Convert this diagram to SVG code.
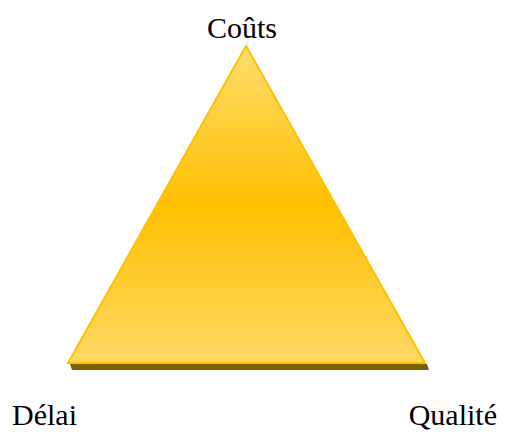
<svg xmlns="http://www.w3.org/2000/svg" width="505" height="432" viewBox="0 0 505 432">
<defs>
<linearGradient id="g" x1="0" y1="0" x2="0" y2="1">
<stop offset="0" stop-color="#FFDD70"/>
<stop offset="0.5" stop-color="#FFC000"/>
<stop offset="1" stop-color="#FFD966"/>
</linearGradient>
</defs>
<style>
.lbl{font-size:30px;fill:#000}
</style>
<g id="triangle">
<polygon points="70,364 427,364 429,370 72,370" fill="#7F6000"/>
<polygon points="246,46 68,363 425,363" fill="url(#g)" stroke="#FFC000" stroke-width="2" stroke-linejoin="miter"/>
</g>
<g id="connectors"/>
<g id="labels">
<text class="lbl" id="couts" font-family="Liberation Serif" x="242" y="38" text-anchor="middle">Coûts</text>
<text class="lbl" id="delai" font-family="Liberation Serif" x="12" y="425">Délai</text>
<text class="lbl" id="qualite" font-family="Liberation Serif" x="497" y="425" text-anchor="end">Qualité</text>
</g>
</svg>
